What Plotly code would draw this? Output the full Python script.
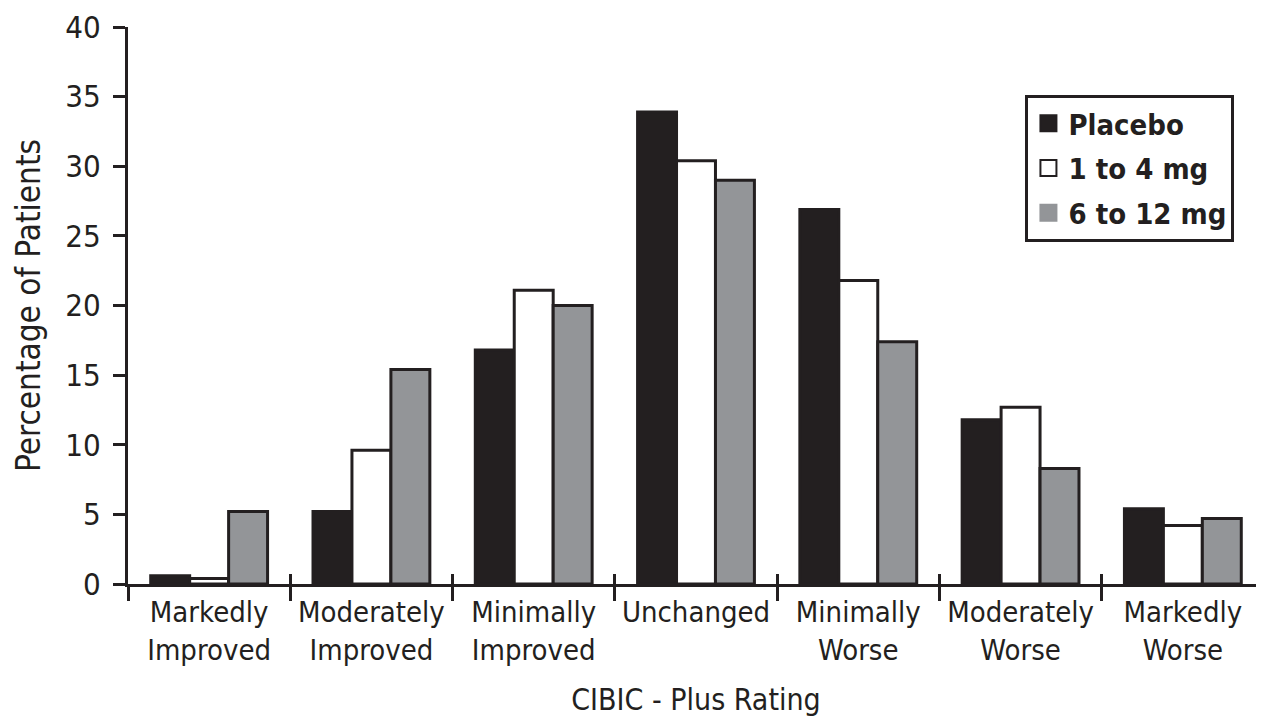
import plotly.graph_objects as go

categories = ["Markedly<br>Improved", "Moderately<br>Improved", "Minimally<br>Improved",
              "Unchanged", "Minimally<br>Worse", "Moderately<br>Worse", "Markedly<br>Worse"]
placebo = [0.6, 5.2, 16.8, 33.9, 26.9, 11.8, 5.4]
dose_1_4 = [0.4, 9.6, 21.1, 30.4, 21.8, 12.7, 4.2]
dose_6_12 = [5.2, 15.4, 20.0, 29.0, 17.4, 8.3, 4.7]
series_names = ["Placebo", "1 to 4 mg", "6 to 12 mg"]
y_ticks = [0, 5, 10, 15, 20, 25, 30, 35, 40]
boundaries = [-0.5, 0.5, 1.5, 2.5, 3.5, 4.5, 5.5, 6.5]

FONT = "DejaVu Sans Condensed, Liberation Sans Narrow, Arial Narrow, sans-serif"
INK = "#231f20"
fills = [INK, "#ffffff", "#939598"]

fig = go.Figure()
for i, (name, vals, col) in enumerate(zip(series_names, [placebo, dose_1_4, dose_6_12], fills)):
    fig.add_trace(go.Bar(x=categories, y=vals, name=name, showlegend=False,
                         marker=dict(color=col, line=dict(color=INK, width=3))))
    # legend-only entry with a larger square swatch
    fig.add_trace(go.Scatter(x=[None], y=[None], name=name, mode="markers", legendgroup=f"g{i}",
                             marker=dict(symbol="square", size=30, color=col,
                                         line=dict(color=INK if col == "#ffffff" else col, width=2))))

# overlay linear axis for the inward half of the boundary ticks
fig.add_trace(go.Scatter(x=[boundaries[0], boundaries[-1]], y=[None, None], xaxis="x2",
                         showlegend=False, hoverinfo="skip", mode="lines"))

fig.update_layout(
    width=1256, height=711,
    margin=dict(l=120, r=0, t=19, b=135),
    paper_bgcolor="white", plot_bgcolor="white",
    barmode="group", bargap=0.28, bargroupgap=0,
    font=dict(family=FONT, color="#231f20", size=29),
    xaxis=dict(type="category", categoryorder="array", categoryarray=categories,
               range=[-0.5, 6.5], showline=True, linecolor=INK, linewidth=3,
               ticks="outside", tickson="boundaries", ticklen=14, tickwidth=3, tickcolor=INK,
               tickfont=dict(family=FONT, size=29, color="#231f20"), automargin=False,
               title=dict(text="CIBIC - Plus Rating", standoff=24,
                          font=dict(family=FONT, size=30, color="#231f20")),
               showgrid=False, zeroline=False, fixedrange=True),
    xaxis2=dict(overlaying="x", range=[boundaries[0], boundaries[-1]], tickvals=boundaries,
                ticks="inside", ticklen=10, tickwidth=3, tickcolor=INK, showticklabels=False,
                showline=False, showgrid=False, zeroline=False, side="bottom", anchor="y",
                automargin=False),
    yaxis=dict(range=[0, 40], tickvals=y_ticks, showline=True, linecolor=INK, linewidth=3,
               ticks="outside", ticklen=12, tickwidth=3, tickcolor=INK, ticklabelstandoff=6,
               tickfont=dict(family=FONT, size=31, color="#231f20"), automargin=False,
               title=dict(text="Percentage of Patients", standoff=15,
                          font=dict(family=FONT, size=33, color="#231f20")),
               showgrid=False, zeroline=False),
    legend=dict(x=0.79, y=0.878, xanchor="left", yanchor="top",
                bordercolor=INK, borderwidth=3, bgcolor="white",
                font=dict(family=FONT, size=29, color="#231f20", weight="bold"),
                itemsizing="trace", tracegroupgap=4),
    showlegend=True,
)

fig.write_html("out.html")
